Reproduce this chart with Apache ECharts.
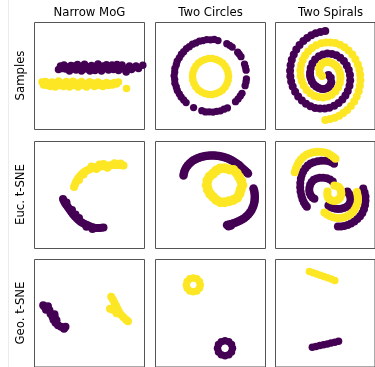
<!DOCTYPE html>
<html>
<head>
<meta charset="utf-8">
<script src="https://cdn.jsdelivr.net/npm/echarts/dist/echarts.min.js"></script>
<style>
html,body{margin:0;padding:0;background:#fff;}
#chart{width:375px;height:367px;}
</style>
</head>
<body>
<div id="chart"></div>
<script>
// ---------- labels ----------
const colTitles = ['Narrow MoG', 'Two Circles', 'Two Spirals'];
const rowTitles = ['Samples', 'Euc. t-SNE', 'Geo. t-SNE'];

// ---------- data (panel-local units) ----------
// Row 1: samples
const mogSamplesPurple = [[24,60],[26,63.5],[27.5,61],[29.5,64.5],[31,60.5],[33,62.5],[35,58.5],[36.5,64],[38,61],[40,63.5],[41.5,59.5],[43,65],[45,61.5],[47,58.5],[48.5,63],[50,65.2],[52,60.5],[53.5,62.8],[55.5,58.5],[57,64],[59,61.5],[60.5,59],[62,63.5],[63.5,65.5],[65.5,61],[67,58.5],[68.5,63.5],[70.5,61],[72,64.8],[74,59.5],[75.5,62.5],[77.5,64.5],[79,60],[81,62.5],[82.5,65],[84,59],[86,62],[87.5,64.5],[89,60.5],[91.7,57.5],[93,61.5],[95,63.5],[97,60],[99,61.7],[101.5,63.5],[104,61],[108.3,64.3]];
const mogSamplesYellow = [[7.5,47.5],[9,44.5],[11,48],[12.5,44],[14,46.5],[16,43],[17.5,47.5],[19,45],[21,42.5],[22.5,46],[24,48.5],[25.5,44],[27,46.5],[29,43],[30.5,45.5],[32,48],[33.5,44.5],[35,42.5],[37,46],[38.5,48.2],[40,44],[42,46.5],[43.5,42.5],[45,45.5],[47,48],[48.5,44],[50,46],[52,42.5],[53.5,45.5],[55,47.8],[57,44.5],[58.5,46.5],[60,43],[62,45.5],[63.5,47.5],[65,44],[67,46],[68.5,43],[70,45.5],[72,47],[74,44],[76,46],[78,44.5],[80,47],[82,45.5],[84,47.5],[92,41]];
const circlesSamplesPurple = [
  [62.5,88.9],[58.8,90.1],[55,89.7],[51.2,89.9],[47.5,88.9],[43.9,88.3],[40.4,86.6],[37,85.3],[33.8,82.8],[30.9,80.9],[28.2,77.8],[25.9,75.3],[23.8,71.7],[21.7,68.3],[20.8,64.8],[19.4,61.2],[19.2,57.5],[18.6,53.7],[19.2,49.9],[19.4,46.2],[20.8,42.6],[21.8,39.1],[23.8,35.7],[25.6,32.5],[28.2,29.6],[30.6,26.9],
  [38.1,21.9],
  [46.3,18.8],[50,17.6],[53.7,17.7],[57.5,17.4],[61.2,18.2],[64.9,18.7],[68.5,20.3],[71.9,21.6],
  [80,27.8],[82.6,30.6],[84.8,33.6],[86.5,36.2],
  [89.6,43.8],[90.5,47.5],[90.9,50.6],
  [90.6,59.3],[89.9,62.4],[89,65.4],
  [85.5,72.8],[83.7,75.4],[82.2,77.3],
  [76.7,82.4],[74.1,84.2],[71.3,85.8]];
const circlesSamplesYellow = [[73,53],[72.6,56.7],[71.4,60.3],[69.6,63.6],[67,66.4],[64,68.6],[60.6,70.1],[56.9,70.9],[53.1,70.9],[49.4,70.1],[46,68.6],[43,66.4],[40.4,63.6],[38.6,60.3],[37.4,56.7],[37,53],[37.4,49.3],[38.6,45.7],[40.4,42.4],[43,39.6],[46,37.4],[49.4,35.9],[53.1,35.1],[56.9,35.1],[60.6,35.9],[64,37.4],[67,39.6],[69.6,42.4],[71.4,45.7],[72.6,49.3]];
const spiralsSamplesPurple = [[58.5,54.6],[61.1,51.8],[61.7,47.3],[60.9,44.9],[59.1,42.7],[56.8,41.3],[53.8,40.6],[50.9,40.6],[47.8,41.4],[45,42.9],[42.3,45.1],[40.2,48],[38.9,51.2],[38.2,54],[38.2,57],[38.9,61.5],[40.8,66],[43.8,70],[48,73.2],[52.4,75.1],[57.3,75.9],[62.4,75.6],[67.2,74.3],[71.6,71.8],[75.6,68.4],[78.8,64.1],[81,59.5],[82.3,54.5],[82.6,49.1],[81.8,43.7],[79.9,38.4],[77.3,33.9],[73.9,29.9],[69.7,26.4],[64.9,23.7],[59.5,21.8],[54.4,20.9],[49.2,20.9],[43.9,21.6],[38.7,23.3],[33.7,25.8],[29.2,29],[25.1,33.1],[21.7,37.8],[19,43],[17.3,48],[16.4,53.3],[16.1,58.8],[16.7,64.3],[18,69.7],[20.2,74.9],[23,79.9],[26.6,84.5],[30.8,88.6],[35,91.6],[39.6,94.2],[44.5,96.2],[49.6,97.6],[55,98.4]];
const spiralsSamplesYellow = [[51.5,53.4],[48.9,56.2],[48.3,60.7],[49.1,63.1],[50.9,65.3],[53.2,66.7],[56.2,67.4],[59.1,67.4],[62.2,66.6],[65,65.1],[67.7,62.9],[69.8,60],[71.1,56.8],[71.8,54],[71.8,51],[71.1,46.5],[69.2,42],[66.2,38],[62,34.8],[57.6,32.9],[52.7,32.1],[47.6,32.4],[42.8,33.7],[38.4,36.2],[34.4,39.6],[31.2,43.9],[29,48.5],[27.7,53.5],[27.4,58.9],[28.2,64.3],[30.1,69.6],[32.7,74.1],[36.1,78.1],[40.3,81.6],[45.1,84.3],[50.5,86.2],[55.6,87.1],[60.8,87.1],[66.1,86.4],[71.3,84.7],[76.3,82.2],[80.8,79],[84.9,74.9],[88.3,70.2],[91,65],[92.7,60],[93.6,54.7],[93.9,49.2],[93.3,43.7],[92,38.3],[89.8,33.1],[87,28.1],[83.4,23.5],[79.2,19.4],[75,16.4],[70.4,13.8],[65.5,11.8],[60.4,10.4],[55,9.6]];

// Row 2: Euclidean t-SNE
const mogEucPurple = [[28.5,49.5],[29.4,47.4],[30.5,45.5],[31.7,43.7],[33,42],[34.2,40.2],[35.5,38.5],[36.7,36.7],[38,35],[39.2,33.4],[40.5,32],[42,30.4],[43.5,29],[45,27.7],[46.5,26.5],[48.2,25.4],[50,24.5],[51.8,23.7],[53.5,23],[55.2,22.2],[57,21.5],[59,21],[61,20.5],[63,20.4],[65,20.5],[67,20.7],[69,21],[37.5,38.5],[44.5,30.5],[52,21.8],[41,34],[58,19.5],[32,46]];
const mogEucYellow = [[39.5,61.5],[40.5,64],[41.5,66.5],[42.7,68.6],[44,70.5],[45.5,72.3],[47,74],[48.7,75.6],[50.5,77],[52.5,78.1],[54.5,79],[56.5,79.8],[58.5,80.5],[60.5,81],[62.5,81.5],[64.5,81.8],[66.5,82],[68.5,82.3],[70.5,82.5],[72.5,82.8],[74.5,83],[76.5,83.3],[78.5,83.5],[80.5,83.5],[82.5,83.5],[84.3,83.5],[86,83.5],[87.5,83.3],[89,83],[57,82],[65,84],[73,80.8],[80,85.2],[86,85],[62,79.5],[69,84.5],[49,74],[44.5,68.5]];
const circlesEucPurple = [[28,73],[28.4,75.3],[29,77.5],[29.9,79.5],[31,81.5],[32.4,83.3],[34,85],[35.7,86.6],[37.5,88],[39.5,89.1],[41.5,90],[43.5,90.8],[45.5,91.5],[47.7,92.1],[50,92.5],[52.2,92.8],[54.5,93],[56.8,93.1],[59,93],[61.2,92.8],[63.5,92.5],[65.8,92],[68,91.5],[70.3,90.8],[72.5,90],[74.5,89],[76.5,88],[78.5,86.8],[80.5,85.5],[82.3,84.3],[84,83],[85.5,81.5],[87,80],[88.5,78.8],[90,77.5],[91.3,76.2],[92.5,75],
  [98,60],[98.6,58],[99,56],[99.2,53.8],[99.3,51.5],[99.2,49.2],[99,47],[98.5,44.7],[97.8,42.5],[96.9,40.2],[95.8,38],[94.4,36],[92.8,34],[91,32.2],[89,30.5],[86.9,29.2],[84.7,28],[82.5,27],[80.2,26],[78,25.2],[75.8,24.5],[73.6,24],[71.5,23.5],[73,22.3],[75.5,23]];
const circlesEucYellow = [[86.8,63.2],[85.7,67.6],[83.6,71.5],[81.3,75.2],[78,78.4],[73.6,79.1],[69.3,80.2],[64.8,80.1],[60.8,77.9],[57.6,74.9],[54.1,72],[51.9,67.9],[51.3,63.2],[52.4,58.7],[54.6,54.7],[57.6,51.5],[60.8,48.5],[64.8,46.3],[69.3,46.2],[73.6,47.3],[77.8,48.5],[81.7,50.8],[84,54.7],[85.2,58.9]];
const spiralsEucPurple = [
  [64.7,84.7],[62,86.2],[59,87.3],[55,87.8],[50.7,87.7],[46.5,87.2],[42.3,86.3],[38.8,84.9],[35.7,83],[33,80.2],[30.7,77],[29,73.5],[28,69.7],[27.4,65.5],[27.3,61.3],[27.7,57],[28.7,53],[29.8,49.5],[31.3,46.3],[33,43.8],[34.7,41.7],
  [63.3,67],[60.2,69],[56.7,70.3],[52.8,70.8],[49,70.7],[45.5,69.9],[42.3,68.7],[40,66.4],[38.3,63.7],[37.5,60.8],[37.3,58],[37.8,55.4],[39,53],[40.8,51],[43,49.7],
  [79.5,57],[81.2,54.8],[82.5,52.5],[83,50],[83,47.5],[82,45.1],[80.5,43],[78.2,41.4],[75.5,40.5],[72.5,39.8],[69.5,39.5],[66.5,39.8],[63.5,40.5],[60.9,41.6],[58.5,43],
  [97,60],[98.5,56],[99.5,52],[99.5,47.7],[99,43.5],[97.8,39.3],[96,35.5],[93.5,32.3],[90.5,29.5],[87.2,27],[83.5,25],[79.8,23.5],[76,22.5],[72.5,22.1],[69,22]];
const spiralsEucYellow = [
  [21.3,76.3],[22.4,79.8],[24,83],[25.8,86.2],[28,89],[30.8,91.6],[34,93.7],[37.3,95.1],[40.7,96],[44,96.5],[47.3,96.7],[51,96.5],[54.7,96],[58.1,94.9],[61.3,93.3],[64,91.6],[66.3,89.7],
  [65,63],[67.6,62.6],[70,61.5],[71.6,59.6],[72.5,57.5],[72.8,55.2],[72.5,53],[71.3,50.8],[69.5,49],[67.3,47.9],[65,47.5],[62.4,47.9],[60,49],[58.4,50.6],[57.5,52.5],[57.3,54.8],[57.5,57],
  [54,36],[56.9,34],[60,32.5],[63.7,31.3],[67.5,30.5],[71.5,30.5],[75.5,31],[79.1,32.3],[82.5,34],[85.2,36.3],[87.5,39],[89.2,41.9],[90.5,45],[91,48],[91,51],[90.6,53.8],[90,56.5]];

// Row 3: geodesic t-SNE
const mogGeoPurple = [[8.7,60.5],[10,59],[13.5,59.5],[11.5,56],[15,55.5],[16,52],[18,49],[20,51.5],[19,46],[20.5,48],[21,43],[22,45.5],[23.5,40.5],[26.5,39],[29.5,37],[31,39]];
const mogGeoYellow = [[76.7,69],[78.5,66],[80,63],[81.5,60],[83,57],[84.5,54],[86.5,51],[89,48.5],[91.5,46],[93.5,44.5],[75.5,57],[78,56],[80.5,58.5],[82,52.5]];
const circlesGeoPurple = [[77,17.3],[76,21.1],[73.3,23.8],[69.5,24.8],[65.8,23.8],[63,21.1],[62,17.3],[63,13.6],[65.8,10.8],[69.5,9.8],[73.3,10.8],[76,13.6]];
const circlesGeoYellow = [[44.8,81],[43.9,84.5],[41.3,87.1],[37.8,88],[34.3,87.1],[31.7,84.5],[30.8,81],[31.7,77.5],[34.3,74.9],[37.8,74],[41.3,74.9],[43.9,77.5]];
const spiralsGeoPurple = [[40.7,18.3],[44.8,19.2],[49,20],[53.1,20.9],[57.3,21.7],[61.4,22.5],[65.6,23.4],[69.7,24.3]];
const spiralsGeoYellow = [[37.5,94.5],[41.5,93.3],[45.5,92],[49.5,90.7],[53.5,89.4],[57.5,88.1],[61.5,86.8],[65.5,85.5]];

// ---------- layout / style ----------
const PURPLE = '#440154', YELLOW = '#fde725';
const colLeft = [34.5, 155.5, 275.5];
const rowTop = [22.5, 141.5, 259.5];
const rowH = [107, 107, 108];
const rowYRange = [[0,107],[0,107],[-1.5,106.5]];
const PW = 110;

const panels = [
  {r:0,c:0,p:mogSamplesPurple,y:mogSamplesYellow,s:7.5},
  {r:0,c:1,p:circlesSamplesPurple,y:circlesSamplesYellow,s:7.3,sy:7.5},
  {r:0,c:2,p:spiralsSamplesPurple,y:spiralsSamplesYellow,s:8},
  {r:1,c:0,p:mogEucPurple,y:mogEucYellow,s:8},
  {r:1,c:1,p:circlesEucPurple,y:circlesEucYellow,s:8.5,sy:10},
  {r:1,c:2,p:spiralsEucPurple,y:spiralsEucYellow,s:8},
  {r:2,c:0,p:mogGeoPurple,y:mogGeoYellow,s:8},
  {r:2,c:1,p:circlesGeoPurple,y:circlesGeoYellow,s:7.5},
  {r:2,c:2,p:spiralsGeoPurple,y:spiralsGeoYellow,s:7.5}
];

const grid = [], xAxis = [], yAxis = [], series = [];
panels.forEach((pn, i) => {
  grid.push({left: colLeft[pn.c], top: rowTop[pn.r], width: PW, height: rowH[pn.r],
    show: true, borderColor: '#555', borderWidth: 1, backgroundColor: 'transparent', containLabel: false});
  xAxis.push({gridIndex: i, type: 'value', min: 0, max: PW, show: false});
  yAxis.push({gridIndex: i, type: 'value', min: rowYRange[pn.r][0], max: rowYRange[pn.r][1], show: false});
  series.push({type: 'scatter', xAxisIndex: i, yAxisIndex: i, data: pn.p, symbol: 'circle',
    symbolSize: pn.s, itemStyle: {color: PURPLE, opacity: 1}, silent: true, clip: true});
  series.push({type: 'scatter', xAxisIndex: i, yAxisIndex: i, data: pn.y, symbol: 'circle',
    symbolSize: pn.sy || pn.s, itemStyle: {color: YELLOW, opacity: 1}, silent: true, clip: true});
});

const FONT = '11.7px "DejaVu Sans", sans-serif';
const graphic = [
  {type: 'line', shape: {x1: 8.5, y1: 0, x2: 8.5, y2: 367}, style: {stroke: '#ececec', lineWidth: 1}, silent: true}
];
colTitles.forEach((t, c) => {
  graphic.push({type: 'text', x: colLeft[c] + PW / 2, y: 12.5,
    style: {text: t, font: FONT, fill: '#000', align: 'center', verticalAlign: 'middle',
      textAlign: 'center', textVerticalAlign: 'middle'}, silent: true});
});
rowTitles.forEach((t, r) => {
  graphic.push({type: 'text', x: 20.5, y: rowTop[r] + rowH[r] / 2 - 0.5, rotation: Math.PI / 2,
    style: {text: t, font: FONT, fill: '#000', align: 'center', verticalAlign: 'middle',
      textAlign: 'center', textVerticalAlign: 'middle'}, silent: true});
});

const chart = echarts.init(document.getElementById('chart'), null, {renderer: 'canvas'});
chart.setOption({
  animation: false,
  backgroundColor: '#fff',
  grid, xAxis, yAxis, series, graphic
});
</script>
</body>
</html>
